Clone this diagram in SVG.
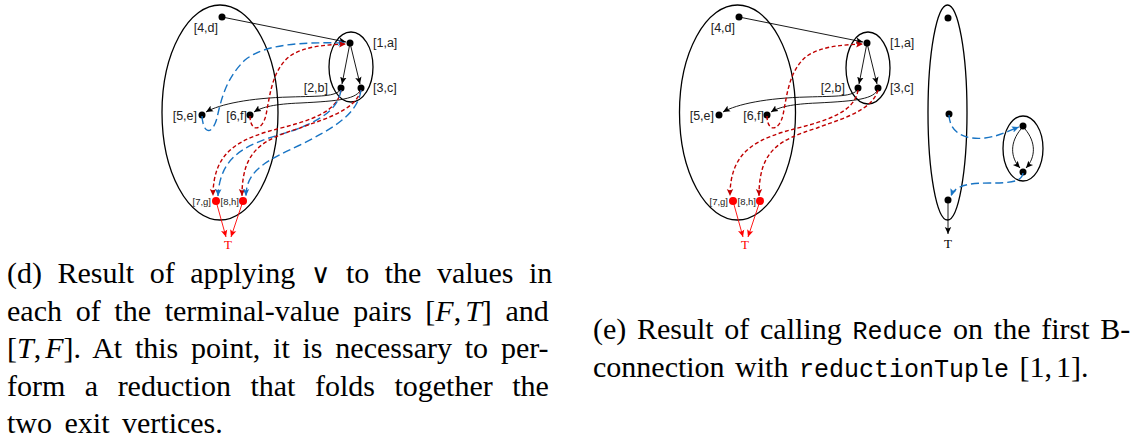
<svg xmlns="http://www.w3.org/2000/svg" width="1138" height="446" viewBox="0 0 1138 446">
<defs>
<marker id="ak" markerUnits="userSpaceOnUse" markerWidth="8" markerHeight="8" refX="7" refY="4" orient="auto"><path d="M0,0.8 L7,4 L0,7.2 L1.5,4 Z" fill="#000"/></marker>
<marker id="ard" markerUnits="userSpaceOnUse" markerWidth="8" markerHeight="8" refX="7" refY="4" orient="auto"><path d="M0,0.8 L7,4 L0,7.2 L1.5,4 Z" fill="#c00000"/></marker>
<marker id="ab" markerUnits="userSpaceOnUse" markerWidth="8" markerHeight="8" refX="7" refY="4" orient="auto"><path d="M0,0.8 L7,4 L0,7.2 L1.5,4 Z" fill="#1874c4"/></marker>
<marker id="ar" markerUnits="userSpaceOnUse" markerWidth="8" markerHeight="8" refX="7" refY="4" orient="auto"><path d="M0,0.8 L7,4 L0,7.2 L1.5,4 Z" fill="#f00"/></marker>
</defs>
<style>
.ell{fill:none;stroke:#000;stroke-width:1.3}
.dot{fill:#000}
.rdot{fill:#f00}
.lbl{font-family:"Liberation Sans",Arial,sans-serif;font-size:12.5px;fill:#222}
.slbl{font-family:"Liberation Sans",Arial,sans-serif;font-size:9.5px;fill:#222}
.e{fill:none;stroke:#000;stroke-width:0.9;marker-end:url(#ak)}
.rd{fill:none;stroke:#c00000;stroke-width:1.4;stroke-dasharray:4 2.5;marker-end:url(#ard)}
.bd{fill:none;stroke:#1874c4;stroke-width:1.4;stroke-dasharray:8 4;marker-end:url(#ab)}
.rs{fill:none;stroke:#f00;stroke-width:0.9;marker-end:url(#ar)}
.tr{font-family:"Liberation Serif","Times New Roman",serif;font-size:13px;fill:#f00}
.tk{font-family:"Liberation Serif","Times New Roman",serif;font-size:13px;fill:#000}
.cap{font-family:"Liberation Serif","Times New Roman",serif;font-size:30px;fill:#000}
.tt{font-family:"Liberation Mono","Courier New",monospace;font-size:25px}
.it{font-style:italic}
.or{font-family:"DejaVu Serif",serif;font-size:27px}
</style>

<!-- ===== Diagram (d) ===== -->
<g id="d-groups">
<ellipse class="ell" cx="220" cy="112.5" rx="58" ry="107.5"/>
<ellipse class="ell" cx="351" cy="67" rx="22" ry="35"/>
</g>
<g id="d-n4"><circle class="dot" cx="222" cy="17" r="3.5"/><text class="lbl" x="218" y="32" text-anchor="end">[4,d]</text></g>
<g id="d-n1"><circle class="dot" cx="350" cy="43" r="3.5"/><text class="lbl" x="373" y="47">[1,a]</text></g>
<g id="d-n2"><circle class="dot" cx="341" cy="88" r="3.5"/><text class="lbl" x="328" y="92" text-anchor="end">[2,b]</text></g>
<g id="d-n3"><circle class="dot" cx="361" cy="88" r="3.5"/><text class="lbl" x="373" y="92">[3,c]</text></g>
<g id="d-n5"><circle class="dot" cx="202" cy="115" r="3.5"/><text class="lbl" x="197" y="120" text-anchor="end">[5,e]</text></g>
<g id="d-n6"><circle class="dot" cx="250" cy="115" r="3.5"/><text class="lbl" x="247" y="120" text-anchor="end">[6,f]</text></g>
<g id="d-n7"><circle class="rdot" cx="216" cy="201" r="4"/><text class="slbl" x="211" y="205" text-anchor="end">[7,g]</text></g>
<g id="d-n8"><circle class="rdot" cx="243" cy="201" r="4"/><text class="slbl" x="239" y="205" text-anchor="end">[8,h]</text></g>
<g id="d-T"><text class="tr" x="228" y="249" text-anchor="middle">T</text></g>

<g id="d-connectors">
<path class="e" d="M222,17 L346,42"/>
<path class="e" d="M350,43 L342,84"/>
<path class="e" d="M350,43 L360,84"/>
<path class="e" d="M341,89 C336,97 320,96 290,97 C250,98 220,104 206,112"/>
<path class="e" d="M361,89 C357,99 340,101 300,103 C275,104 262,107 254,112"/>
<path class="bd" d="M202,116 C203,134 212,136 217,118 C221,100 226,78 245,60 C265,44 300,42 345,43"/>
<path class="rd" d="M250,116 C250,132 262,132 266,115 C270,95 272,70 290,56 C305,46 325,45 346,44"/>
<path class="rd" d="M341,90 C338,112 310,120 285,127 C240,138 213,150 213,196"/>
<path class="bd" d="M341,90 C338,110 320,120 295,130 C255,142 220,150 218,196"/>
<path class="rd" d="M361,90 C355,112 320,120 300,128 C262,140 242,150 242,196"/>
<path class="bd" d="M361,90 C358,115 330,130 300,145 C268,160 246,170 246,196"/>
<path class="rs" d="M216,201 L226,237"/>
<path class="rs" d="M243,201 L231,237"/>
</g>

<!-- ===== Diagram (e) ===== -->
<g id="e-groups">
<ellipse class="ell" cx="737.5" cy="112.5" rx="58" ry="107.5"/>
<ellipse class="ell" cx="868" cy="68" rx="22" ry="36"/>
<ellipse class="ell" cx="947.5" cy="112.5" rx="19.5" ry="107.5"/>
<ellipse class="ell" cx="1023" cy="148.5" rx="20" ry="32.5"/>
</g>
<g id="e-n4"><circle class="dot" cx="739" cy="17" r="3.5"/><text class="lbl" x="735" y="32" text-anchor="end">[4,d]</text></g>
<g id="e-n1"><circle class="dot" cx="867" cy="43" r="3.5"/><text class="lbl" x="890" y="47">[1,a]</text></g>
<g id="e-n2"><circle class="dot" cx="858" cy="88" r="3.5"/><text class="lbl" x="845" y="92" text-anchor="end">[2,b]</text></g>
<g id="e-n3"><circle class="dot" cx="878" cy="88" r="3.5"/><text class="lbl" x="890" y="92">[3,c]</text></g>
<g id="e-n5"><circle class="dot" cx="719" cy="115" r="3.5"/><text class="lbl" x="714" y="120" text-anchor="end">[5,e]</text></g>
<g id="e-n6"><circle class="dot" cx="767" cy="115" r="3.5"/><text class="lbl" x="764" y="120" text-anchor="end">[6,f]</text></g>
<g id="e-n7"><circle class="rdot" cx="733" cy="201" r="4"/><text class="slbl" x="728" y="205" text-anchor="end">[7,g]</text></g>
<g id="e-n8"><circle class="rdot" cx="760" cy="201" r="4"/><text class="slbl" x="756" y="205" text-anchor="end">[8,h]</text></g>
<g id="e-T"><text class="tr" x="745" y="249" text-anchor="middle">T</text></g>
<g id="e-m1"><circle class="dot" cx="948" cy="18" r="3.5"/></g>
<g id="e-m2"><circle class="dot" cx="949" cy="114" r="3.5"/></g>
<g id="e-m3"><circle class="dot" cx="948" cy="200" r="3.5"/></g>
<g id="e-s1"><circle class="dot" cx="1023" cy="126" r="3.5"/></g>
<g id="e-s2"><circle class="dot" cx="1023" cy="172" r="3.5"/></g>
<g id="e-T2"><text class="tk" x="948" y="248" text-anchor="middle">T</text></g>

<g id="e-connectors">
<path class="e" d="M739,17 L863,42"/>
<path class="e" d="M867,43 L859,84"/>
<path class="e" d="M867,43 L877,84"/>
<path class="e" d="M858,89 C853,97 837,96 807,97 C767,98 737,104 723,112"/>
<path class="e" d="M878,89 C874,99 857,101 817,103 C792,104 779,107 771,112"/>
<path class="rd" d="M767,116 C767,132 779,132 783,115 C787,95 789,70 807,56 C822,46 842,45 863,44"/>
<path class="rd" d="M858,90 C855,112 827,120 802,127 C757,138 730,150 730,196"/>
<path class="rd" d="M878,90 C872,112 837,120 817,128 C779,140 759,150 759,196"/>
<path class="rs" d="M733,201 L743,237"/>
<path class="rs" d="M760,201 L748,237"/>
<path class="e" d="M948,200 L948,234"/>
<path class="e" d="M1021,129 C1010,142 1010,157 1020,168"/>
<path class="e" d="M1025,129 C1036,142 1036,157 1026,168"/>
<path class="bd" d="M949,115 C950,135 968,140 985,138 C1000,136 1008,131 1019,127"/>
<path class="bd" d="M1023,173 C1022,182 1010,183 990,183 C970,183 955,185 951,196"/>
</g>

<!-- ===== Captions ===== -->
<g id="caption-d" class="cap">
<text x="7" y="283" word-spacing="8">(d) Result of applying <tspan class="or">∨</tspan> to the values in</text>
<text x="7" y="320.5" word-spacing="6.2">each of the terminal-value pairs [<tspan class="it">F</tspan>,<tspan class="it" dx="4">T</tspan>] and</text>
<text x="7" y="358" word-spacing="5.3">[<tspan class="it">T</tspan>,<tspan class="it" dx="4">F</tspan>]. At this point, it is necessary to per-</text>
<text x="7" y="395.5" word-spacing="12">form a reduction that folds together the</text>
<text x="7" y="433" word-spacing="5">two exit vertices.</text>
</g>
<g id="caption-e" class="cap">
<text x="593" y="339" word-spacing="3.2">(e) Result of calling <tspan class="tt">Reduce</tspan> on the first B-</text>
<text x="593" y="377" word-spacing="3">connection with <tspan class="tt">reductionTuple</tspan> [1,<tspan dx="4">1</tspan>].</text>
</g>
</svg>
